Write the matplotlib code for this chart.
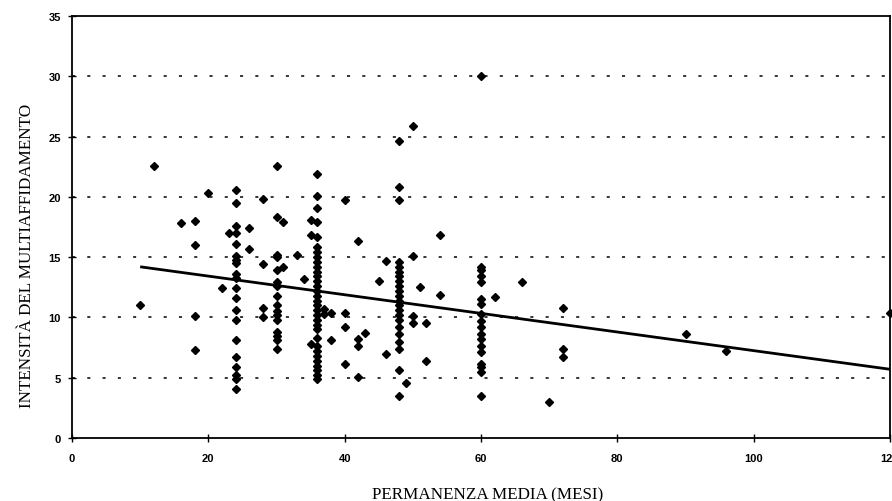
import matplotlib
matplotlib.use("Agg")
import matplotlib.pyplot as plt

# ---- data ----
col_x = [10, 12, 16, 18, 20, 22, 23, 24, 26, 28, 30, 31, 33, 34, 35, 36, 37, 38, 40,
         42, 43, 45, 46, 48, 49, 50, 51, 52, 54, 60, 62, 66, 70, 72, 90, 96, 120]
col_y = [
    [11.0],
    [22.6],
    [17.8],
    [18.0, 16.0, 10.1, 7.3],
    [20.3],
    [12.4],
    [17.0],
    [20.6, 19.5, 17.6, 17.0, 16.1, 15.1, 14.8, 14.5, 13.6, 13.3, 12.4, 11.6, 10.6,
     9.8, 8.1, 6.7, 5.9, 5.2, 4.9, 4.1],
    [17.4, 15.7],
    [19.8, 14.4, 10.8, 10.0],
    [22.6, 18.3, 15.2, 15.0, 13.9, 12.9, 12.6, 11.8, 11.0, 10.5, 10.2, 9.8, 8.8, 8.5,
     8.1, 7.4],
    [17.9, 14.2],
    [15.2],
    [13.2],
    [18.1, 16.8, 7.8],
    [21.9, 20.1, 19.1, 17.9, 16.7, 15.8, 15.4, 15.0, 14.6, 14.2, 13.8, 13.4, 13.0,
     12.6, 12.2, 11.8, 11.4, 11.0, 10.6, 10.2, 9.8, 9.4, 9.0, 8.3, 7.6, 7.2, 6.8,
     6.4, 6.0, 5.6, 5.2, 4.9],
    [10.7, 10.3],
    [10.4, 8.1],
    [19.7, 10.4, 9.2, 6.1],
    [16.3, 8.2, 7.6, 5.1],
    [8.7],
    [13.0],
    [14.7, 7.0],
    [24.6, 20.8, 19.7, 14.6, 14.2, 13.8, 13.4, 13.0, 12.6, 12.2, 11.8, 11.4, 11.0,
     10.6, 10.2, 9.8, 9.2, 8.6, 8.0, 7.4, 5.6, 3.5],
    [4.6],
    [25.9, 15.1, 10.1, 9.5],
    [12.5],
    [9.5, 6.4],
    [16.8, 11.9],
    [30.0, 14.2, 13.9, 13.4, 12.9, 11.5, 11.1, 10.3, 9.7, 9.2, 8.6, 8.2, 7.6, 7.1,
     6.1, 5.9, 5.5, 3.5],
    [11.7],
    [12.9],
    [3.0],
    [10.8, 7.4, 6.7],
    [8.6],
    [7.2],
    [10.4],
]
trend_x = [10, 120]
trend_y = [14.2, 5.7]

x_ticks = [0, 20, 40, 60, 80, 100, 120]
y_ticks = [0, 5, 10, 15, 20, 25, 30, 35]
x_label = "PERMANENZA MEDIA (MESI)"
y_label = "INTENSITÀ DEL MULTIAFFIDAMENTO"

xs, ys = [], []
for cx, cys in zip(col_x, col_y):
    for v in cys:
        xs.append(cx)
        ys.append(v)

fig = plt.figure(figsize=(8.92, 5.02), dpi=100)
ax = fig.add_axes([72 / 892, 63 / 502, 818 / 892, 422 / 502])
ax.set_xlim(0, 120)
ax.set_ylim(0, 35)

for gy in y_ticks[1:-1]:
    ax.axhline(gy, color="black", lw=1.1, dashes=(2.0, 8.0), zorder=1)

ax.plot(xs, ys, linestyle="none", marker="D", markersize=4.2,
        color="black", zorder=3, clip_on=False)
ax.plot(trend_x, trend_y, color="black", lw=2.0, zorder=4, solid_capstyle="butt")

for s in ax.spines.values():
    s.set_linewidth(1.3)
    s.set_color("black")

ax.set_xticks(x_ticks)
ax.set_yticks(y_ticks)
ax.tick_params(direction="inout", length=6, width=1.0, colors="black")
for lab in ax.get_xticklabels() + ax.get_yticklabels():
    lab.set_fontfamily("Liberation Sans")
    lab.set_fontweight("bold")
    lab.set_fontsize(8)
ax.tick_params(axis="x", pad=8)
ax.tick_params(axis="y", pad=5)

fig.text(488 / 892, 3 / 502, x_label, fontfamily="Liberation Serif", fontsize=12.3,
         ha="center", va="baseline")
fig.text(27 / 892, 1 - 256 / 502, y_label, fontfamily="Liberation Serif", fontsize=12.3,
         rotation=90, ha="center", va="center")

fig.savefig("out.png", dpi=100)
